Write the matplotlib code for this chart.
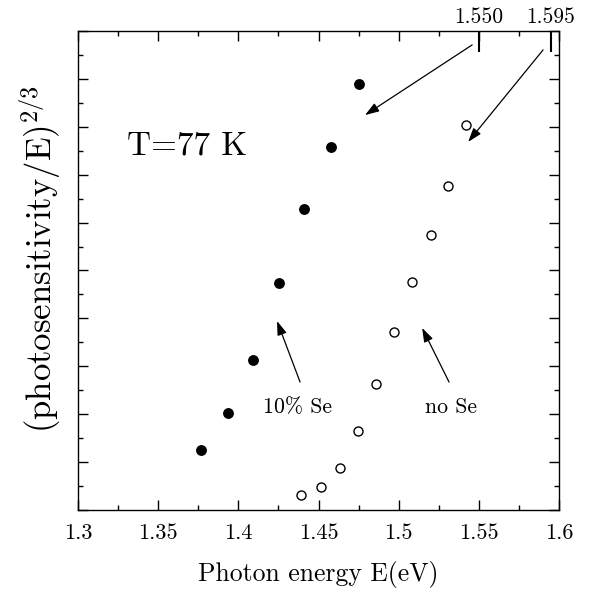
import matplotlib
matplotlib.use("Agg")
import matplotlib.pyplot as plt
from matplotlib.ticker import MultipleLocator, NullFormatter

plt.rcParams['font.family'] = ['cmr10', 'DejaVu Serif']
plt.rcParams['mathtext.fontset'] = 'cm'
plt.rcParams['axes.formatter.use_mathtext'] = True

# Photon energy (eV) and (photosensitivity/E)^(2/3), arbitrary units
energy_se10 = [1.377, 1.3936, 1.409, 1.4254, 1.441, 1.4578, 1.4753]
signal_se10 = [2.50, 4.04, 6.25, 9.46, 12.58, 15.17, 17.79]

energy_nose = [1.439, 1.4516, 1.4634, 1.4747, 1.4859, 1.4971, 1.5084, 1.5202, 1.5308, 1.542]
signal_nose = [0.63, 0.96, 1.75, 3.29, 5.25, 7.42, 9.54, 11.50, 13.54, 16.08]

xticks = [1.3, 1.35, 1.4, 1.45, 1.5, 1.55, 1.6]
xticklabels = ["1.3", "1.35", "1.4", "1.45", "1.5", "1.55", "1.6"]
gap_energies = [1.550, 1.595]
gap_labels = ["1.550", "1.595"]

fig = plt.figure(figsize=(5.91, 5.93), dpi=100)
ax = fig.add_axes([0.132, 0.14, 0.814, 0.8077])

ax.plot(energy_se10, signal_se10, 'o', color='black', markersize=6.8, zorder=3)
ax.plot(energy_nose, signal_nose, 'o', markerfacecolor='white', markeredgecolor='black',
        markeredgewidth=1.0, markersize=6.5, zorder=3)

ax.set_xlim(1.3, 1.6)
ax.set_ylim(0, 20)
ax.set_xticks(xticks)
ax.set_xticklabels(xticklabels)
ax.xaxis.set_minor_locator(MultipleLocator(0.025))
ax.yaxis.set_major_locator(MultipleLocator(2))
ax.yaxis.set_minor_locator(MultipleLocator(1))
ax.yaxis.set_major_formatter(NullFormatter())
ax.tick_params(which='both', direction='in', top=True, right=True, width=1.0)
ax.tick_params(which='major', length=7, labelsize=16, pad=10)
ax.tick_params(which='minor', length=3.5)
for s in ax.spines.values():
    s.set_linewidth(1.0)

# Band-gap markers on the top edge
top = ax.secondary_xaxis('top')
top.set_xticks(gap_energies)
top.set_xticklabels(gap_labels)
top.tick_params(direction='in', length=15, width=1.5, labelsize=15.5, pad=3)
top.xaxis.set_minor_locator(plt.NullLocator())
top.spines['top'].set_visible(False)

ax.set_xlabel('Photon energy E(eV)', fontsize=18.5)
ax.xaxis.set_label_coords(0.5, -0.106)
ax.set_ylabel(r'(photosensitivity/E)$^{2/3}$', fontsize=25)
ax.yaxis.set_label_coords(-0.03, 0.524)

ax.text(1.3683, 15.2, 'T=77 K', fontsize=24, ha='center', va='center')
ax.text(1.437, 4.3, '10% Se', fontsize=15.7, ha='center', va='center')
ax.text(1.5327, 4.3, 'no Se', fontsize=15.7, ha='center', va='center')

arrow = dict(arrowstyle='-|>,head_length=0.65,head_width=0.22', lw=0.9, color='black',
             mutation_scale=13, shrinkA=0, shrinkB=0)
ax.annotate('', xy=(1.479, 16.49), xytext=(1.5458, 19.42), arrowprops=arrow)
ax.annotate('', xy=(1.5433, 15.37), xytext=(1.590, 19.21), arrowprops=arrow)
ax.annotate('', xy=(1.4241, 7.89), xytext=(1.4385, 5.34), arrowprops=arrow)
ax.annotate('', xy=(1.5146, 7.60), xytext=(1.5314, 5.34), arrowprops=arrow)

fig.savefig('out.png', dpi=100)
